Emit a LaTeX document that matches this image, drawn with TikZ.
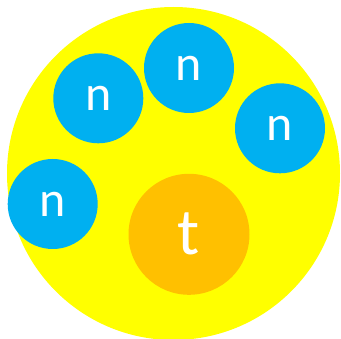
\documentclass[tikz,border=0pt]{standalone}
\usepackage{fontspec}
\setmainfont{Carlito}
\usepackage{tikz}
\definecolor{shell}{HTML}{FFFF00}
\definecolor{neutron}{HTML}{00B0F0}
\definecolor{target}{HTML}{FFC000}
\tikzset{
  ball/.style={circle,inner sep=0pt,text=white},
  atom/.style={ball,fill=shell,minimum size=333pt},
  nball/.style={ball,fill=neutron,minimum size=90pt,font=\fontsize{50}{60}\selectfont},
  tball/.style={ball,fill=target,minimum size=121pt,font=\fontsize{66}{78}\selectfont},
}
\begin{document}
\begin{tikzpicture}[x=1pt,y=-1pt]
  \clip (0,0) rectangle (341,339);
  \useasboundingbox (0,0) rectangle (341,339);
  \node[atom] (atom) at (173.5,173.5) {};
  \node[nball] (n1) at (98.3,98.3) {n};
  \node[nball] (n2) at (189,68) {n};
  \node[nball] (n3) at (280,128.3) {n};
  \node[nball] (n4) at (52.7,204) {n};
  \node[tball] (t) at (189,234.3) {t};
\end{tikzpicture}
\end{document}
